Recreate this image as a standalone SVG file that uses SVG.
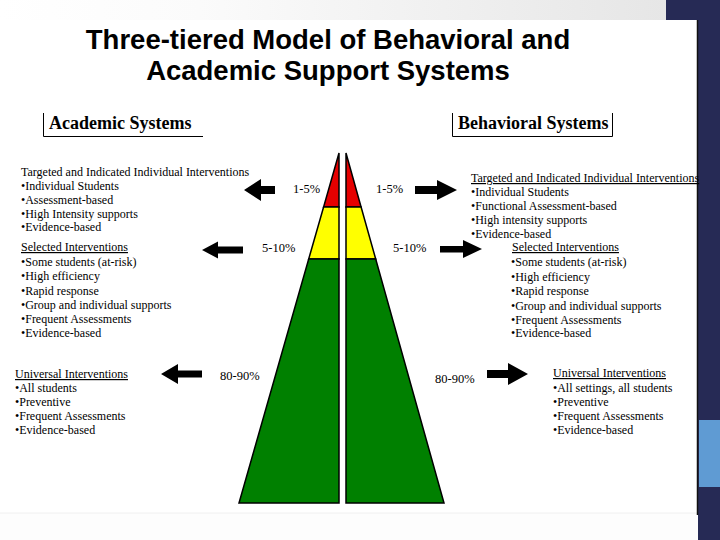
<svg xmlns="http://www.w3.org/2000/svg" width="720" height="540" viewBox="0 0 720 540">
<defs>
<linearGradient id="topband" x1="0" y1="0" x2="1" y2="0">
<stop offset="0" stop-color="#ffffff"/>
<stop offset="0.3" stop-color="#fbfbfb"/>
<stop offset="1" stop-color="#e6e6e6"/>
</linearGradient>
<style>
.title{font-family:"Liberation Sans",Arial,sans-serif;font-weight:bold;font-size:27.5px;fill:#000;text-anchor:middle}
.hdr{font-family:"Liberation Serif","Times New Roman",serif;font-weight:bold;font-size:18px;fill:#000}
.t{font-family:"Liberation Serif","Times New Roman",serif;font-size:12px;fill:#000}
.u{text-decoration:underline}
.pct{font-family:"Liberation Serif","Times New Roman",serif;font-size:12.5px;fill:#000}
.box{stroke:#000;stroke-width:1;fill:none}
.tier{stroke:#000;stroke-width:1.5;stroke-linejoin:miter}
.red{fill:#e60000}
.yel{fill:#ffff00}
.grn{fill:#008000}
.arrow{fill:#000}
</style>
</defs>

<!-- background -->
<rect x="0" y="0" width="720" height="540" fill="#ffffff"/>
<rect x="0" y="0" width="666" height="20" fill="url(#topband)"/>
<rect x="666" y="0" width="54" height="20" fill="#262a55"/>
<rect x="698" y="20" width="22" height="520" fill="#262a55"/>
<rect x="699" y="420" width="21" height="67" fill="#5f9bd3"/>
<rect x="0" y="513" width="698" height="27" fill="#fdfdfd"/>
<line x1="0" y1="513" x2="698" y2="513" stroke="#f0f0f0" stroke-width="1"/>
<line x1="697.5" y1="20" x2="697.5" y2="515" stroke="#111" stroke-width="1.5"/>

<g id="title">
<text class="title" x="328" y="49">Three-tiered Model of Behavioral and</text>
<text class="title" x="328" y="80">Academic Support Systems</text>
</g>

<g id="academic-header">
<path class="box" d="M43.5,113 V136.5 H203"/>
<text class="hdr" x="49" y="129">Academic Systems</text>
</g>

<g id="behavioral-header">
<path class="box" d="M452.5,113 V136.5 H612.5 V113"/>
<text class="hdr" x="458" y="129">Behavioral Systems</text>
</g>

<g id="academic-targeted">
<text class="t" x="21" y="176">Targeted and Indicated Individual Interventions</text>
<text class="t" x="21" y="190">•Individual Students</text>
<text class="t" x="21" y="204">•Assessment-based</text>
<text class="t" x="21" y="218">•High Intensity supports</text>
<text class="t" x="21" y="231">•Evidence-based</text>
</g>

<g id="academic-selected">
<text class="t u" x="21" y="251">Selected Interventions</text>
<text class="t" x="21" y="266">•Some students (at-risk)</text>
<text class="t" x="21" y="280">•High efficiency</text>
<text class="t" x="21" y="295">•Rapid response</text>
<text class="t" x="21" y="309">•Group and individual supports</text>
<text class="t" x="21" y="323">•Frequent Assessments</text>
<text class="t" x="21" y="337">•Evidence-based</text>
</g>

<g id="academic-universal">
<text class="t u" x="15" y="378">Universal Interventions</text>
<text class="t" x="15" y="392">•All students</text>
<text class="t" x="15" y="406">•Preventive</text>
<text class="t" x="15" y="420">•Frequent Assessments</text>
<text class="t" x="15" y="434">•Evidence-based</text>
</g>

<g id="behavioral-targeted">
<text class="t u" x="471" y="182">Targeted and Indicated Individual Interventions</text>
<text class="t" x="471" y="195.5">•Individual Students</text>
<text class="t" x="471" y="210">•Functional Assessment-based</text>
<text class="t" x="471" y="224">•High intensity supports</text>
<text class="t" x="471" y="238">•Evidence-based</text>
</g>

<g id="behavioral-selected">
<text class="t u" x="512" y="251">Selected Interventions</text>
<text class="t" x="511" y="266">•Some students (at-risk)</text>
<text class="t" x="511" y="281">•High efficiency</text>
<text class="t" x="511" y="295">•Rapid response</text>
<text class="t" x="511" y="310">•Group and individual supports</text>
<text class="t" x="511" y="324">•Frequent Assessments</text>
<text class="t" x="511" y="337">•Evidence-based</text>
</g>

<g id="behavioral-universal">
<text class="t u" x="553" y="377">Universal Interventions</text>
<text class="t" x="553" y="392">•All settings, all students</text>
<text class="t" x="553" y="406">•Preventive</text>
<text class="t" x="553" y="420">•Frequent Assessments</text>
<text class="t" x="553" y="434">•Evidence-based</text>
</g>

<g id="pyramid-academic">
<polygon class="tier red" points="339,153 339,207 323.6,207"/>
<polygon class="tier yel" points="323.6,207 339,207 339,259 308.7,259"/>
<polygon class="tier grn" points="308.7,259 339,259 339,503 239,503"/>
</g>

<g id="pyramid-behavioral">
<polygon class="tier red" points="346,153 346,207 361.1,207"/>
<polygon class="tier yel" points="346,207 361.1,207 375.7,259 346,259"/>
<polygon class="tier grn" points="346,259 375.7,259 444,503 346,503"/>
</g>

<g id="percent-labels">
<text class="pct" x="293" y="193">1-5%</text>
<text class="pct" x="376" y="193">1-5%</text>
<text class="pct" x="262" y="252">5-10%</text>
<text class="pct" x="393" y="252">5-10%</text>
<text class="pct" x="220" y="380">80-90%</text>
<text class="pct" x="435" y="383">80-90%</text>
</g>

<g id="connectors">
<path class="arrow" d="M244,190 L261,179 L261,186 L275,186 L275,194 L261,194 L261,201 Z"/>
<path class="arrow" d="M202,250 L218,241.5 L218,246.5 L243,246.5 L243,253.5 L218,253.5 L218,258.5 Z"/>
<path class="arrow" d="M161,374 L178,364 L178,370.5 L202,370.5 L202,377.5 L178,377.5 L178,384 Z"/>
<path class="arrow" d="M457,190 L437,180 L437,186 L415,186 L415,194 L437,194 L437,200 Z"/>
<path class="arrow" d="M482,249 L463,240 L463,246 L440,246 L440,252.5 L463,252.5 L463,258 Z"/>
<path class="arrow" d="M528,374 L508,363 L508,370 L487,370 L487,378 L508,378 L508,385 Z"/>
</g>
</svg>
